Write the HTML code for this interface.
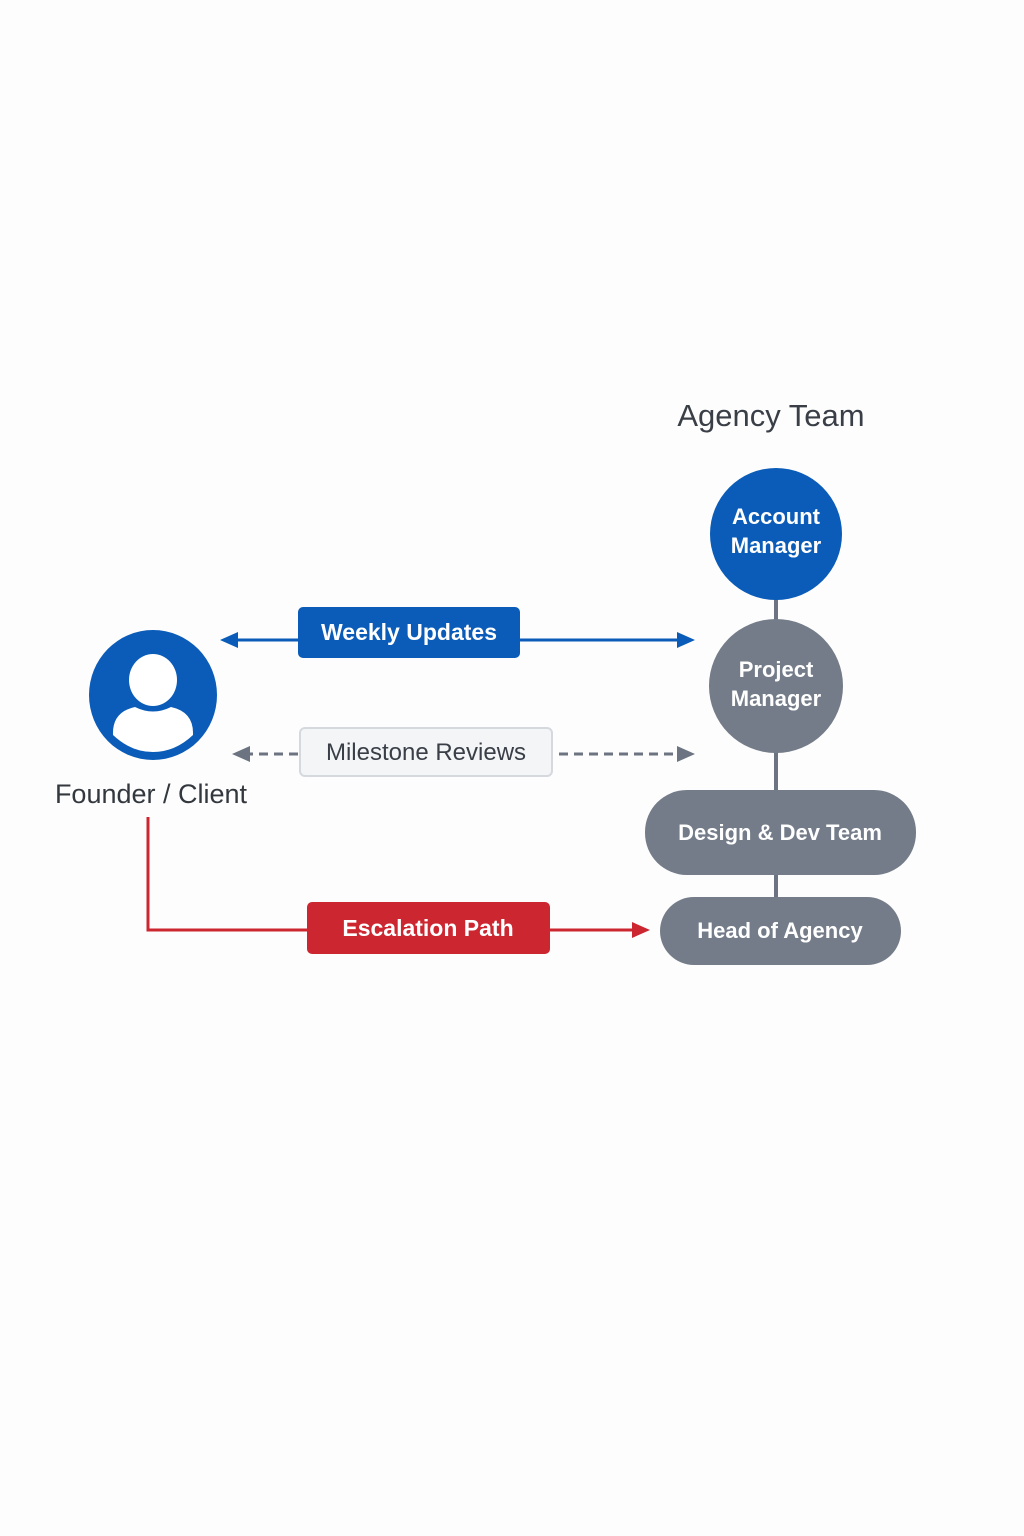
<!DOCTYPE html>
<html><head><meta charset="utf-8"><style>
html,body{margin:0;padding:0;background:#fdfdfd}
svg{display:block}
text{font-family:"Liberation Sans",sans-serif}
</style></head><body>
<svg width="1024" height="1536" viewBox="0 0 1024 1536" xmlns="http://www.w3.org/2000/svg">
<rect width="1024" height="1536" fill="#fdfdfd"/>
<text x="771" y="426" font-size="31" fill="#3a3f47" text-anchor="middle">Agency Team</text>
<g stroke="#6b7480" stroke-width="4">
<line x1="776" y1="598" x2="776" y2="622"/>
<line x1="776" y1="750" x2="776" y2="792"/>
<line x1="776" y1="873" x2="776" y2="899"/>
</g>
<circle cx="776" cy="534" r="66" fill="#0a5cb8"/>
<text x="776" y="524" font-size="22" font-weight="bold" fill="#fff" text-anchor="middle">Account</text>
<text x="776" y="553" font-size="22" font-weight="bold" fill="#fff" text-anchor="middle">Manager</text>
<circle cx="776" cy="686" r="67" fill="#737c88"/>
<text x="776" y="677" font-size="22" font-weight="bold" fill="#fff" text-anchor="middle">Project</text>
<text x="776" y="706" font-size="22" font-weight="bold" fill="#fff" text-anchor="middle">Manager</text>
<rect x="645" y="790" width="271" height="85" rx="42" fill="#737c88"/>
<text x="780" y="840" font-size="22" font-weight="bold" fill="#fff" text-anchor="middle">Design &amp; Dev Team</text>
<rect x="660" y="897" width="241" height="68" rx="34" fill="#737c88"/>
<text x="780" y="938" font-size="22" font-weight="bold" fill="#fff" text-anchor="middle">Head of Agency</text>
<ellipse cx="153" cy="695" rx="64" ry="65" fill="#0a5cb8"/>
<ellipse cx="153" cy="680" rx="24" ry="26" fill="#fff"/>
<path d="M113 735 Q112 712 135 707 Q153 716 171 707 Q194 712 193 735 Q175 752 153 752 Q131 752 113 735Z" fill="#fff"/>
<text x="151" y="803" font-size="27" fill="#33383f" text-anchor="middle">Founder / Client</text>
<line x1="232" y1="640" x2="682" y2="640" stroke="#0a5cb8" stroke-width="3"/>
<polygon points="220,640 238,632 238,648" fill="#0a5cb8"/>
<polygon points="695,640 677,632 677,648" fill="#0a5cb8"/>
<rect x="298" y="607" width="222" height="51" rx="5" fill="#0a5cb8"/>
<text x="409" y="640" font-size="23" font-weight="bold" fill="#fff" text-anchor="middle">Weekly Updates</text>
<line x1="244" y1="754" x2="682" y2="754" stroke="#6b7480" stroke-width="3" stroke-dasharray="9,6"/>
<polygon points="232,754 250,746 250,762" fill="#6b7480"/>
<polygon points="695,754 677,746 677,762" fill="#6b7480"/>
<rect x="300" y="728" width="252" height="48" rx="5" fill="#f3f5f7" stroke="#d5d9de" stroke-width="2"/>
<text x="426" y="760" font-size="24" fill="#3a3f47" text-anchor="middle">Milestone Reviews</text>
<polyline points="148,817 148,930 636,930" fill="none" stroke="#cc2630" stroke-width="3"/>
<polygon points="650,930 632,922 632,938" fill="#cc2630"/>
<rect x="307" y="902" width="243" height="52" rx="5" fill="#cc2630"/>
<text x="428" y="936" font-size="23" font-weight="bold" fill="#fff" text-anchor="middle">Escalation Path</text>
</svg>
</body></html>
